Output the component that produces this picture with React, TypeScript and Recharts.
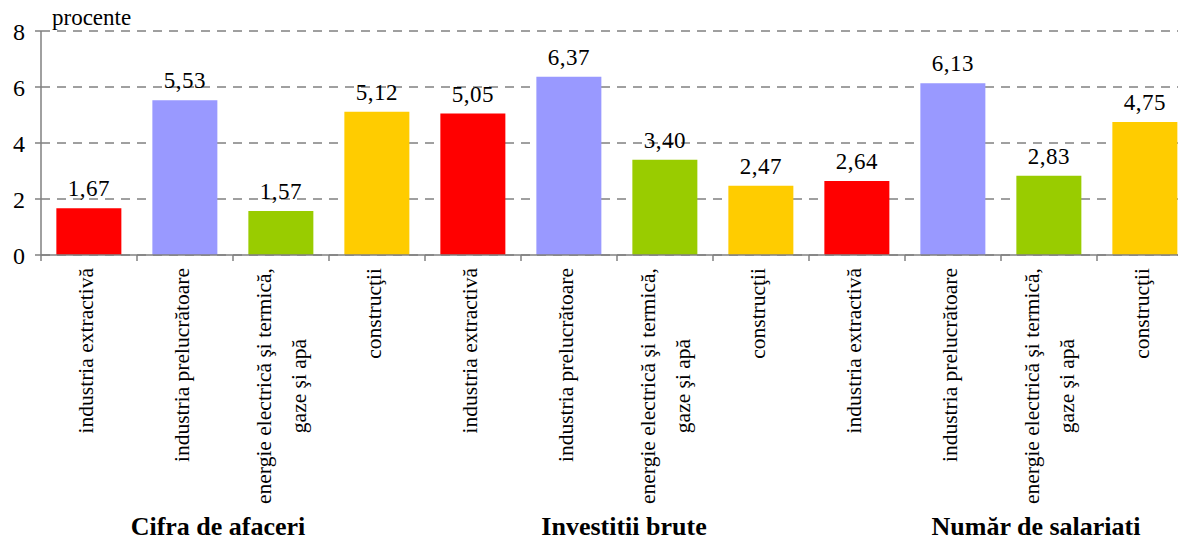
import React from 'react';
import { BarChart, Bar, XAxis, YAxis, CartesianGrid, Cell, LabelList } from 'recharts';

const GROUPS = ['Cifra de afaceri', 'Investiţii brute', 'Număr de salariaţi'];
const SECTORS = [
  'industria extractivă',
  'industria prelucrătoare',
  'energie electrică şi termică,\ngaze şi apă',
  'construcţii'
];
const CIFRA = [1.67, 5.53, 1.57, 5.12];
const INVESTITII = [5.05, 6.37, 3.4, 2.47];
const SALARIATI = [2.64, 6.13, 2.83, 4.75];
const Y_TICKS = [0, 2, 4, 6, 8];

const COLORS = ['#FF0000', '#9999FF', '#99CC00', '#FFCC00'];
const FONT = "'Liberation Serif', 'DejaVu Serif', serif";

const CHART_W = 1200;
const CHART_H = 543;
const LEFT = 41;
const RIGHT = 7;
const TOP = 31;
const X_AXIS_H = 288;

const data = [CIFRA, INVESTITII, SALARIATI].flatMap((vals, g) =>
  vals.map((v, i) => ({ key: `${g}-${i}`, group: g, sector: i, value: v }))
);
const BAND = (CHART_W - LEFT - RIGHT) / data.length;
const GROUP_NUDGE = [-15, 7, 35];
const CAT_FONT = 21.5;

let ctx: CanvasRenderingContext2D | null = null;
function measure(text: string) {
  if (!ctx) ctx = document.createElement('canvas').getContext('2d');
  if (!ctx) return text.length * CAT_FONT * 0.4;
  ctx.font = `${CAT_FONT}px ${FONT}`;
  return ctx.measureText(text).width;
}

const txt = (size: number, weight: string = 'normal') => ({
  fontFamily: FONT,
  fontSize: size,
  fontWeight: weight as any,
  fill: '#000'
});

const CategoryTick = (props: any) => {
  const { x, y, payload } = props;
  const idx = payload.index;
  const row = data[idx];
  const lines = SECTORS[row.sector].split('\n');
  const top = y + 13;
  const left = x - BAND / 2;
  const items: React.ReactNode[] = [];
  items.push(<line key="t" x1={left} y1={y} x2={left} y2={y + 6} stroke="#808080" strokeWidth={1.5} />);
  if (lines.length === 1) {
    items.push(
      <text key="l0" x={x - 3} y={top} transform={`rotate(-90, ${x - 3}, ${top})`} textAnchor="end"
        dominantBaseline="central" style={txt(CAT_FONT)}>{lines[0]}</text>
    );
  } else {
    const w = measure(lines[0]);
    const mid = top + w / 2;
    items.push(
      <text key="l0" x={x - 17} y={top} transform={`rotate(-90, ${x - 17}, ${top})`} textAnchor="end"
        dominantBaseline="central" style={txt(CAT_FONT)}>{lines[0]}</text>
    );
    items.push(
      <text key="l1" x={x + 18} y={mid} transform={`rotate(-90, ${x + 18}, ${mid})`} textAnchor="middle"
        dominantBaseline="central" style={txt(CAT_FONT)}>{lines[1]}</text>
    );
  }
  if (row.sector === 0) {
    const gx = left + 2 * BAND + GROUP_NUDGE[row.group];
    items.push(
      <text key="g" x={gx} y={y + 280} textAnchor="middle" style={txt(26, 'bold')}>{GROUPS[row.group]}</text>
    );
  }
  return <g>{items}</g>;
};

const UnitLabel = (props: any) => {
  const { viewBox } = props;
  return (
    <text x={viewBox.x + viewBox.width + 11} y={25} style={txt(23)}>procente</text>
  );
};

export default function App() {
  return (
    <div style={{ margin: -8, width: 1186, height: 543, overflow: 'hidden', background: '#fff', fontFamily: FONT }}>
      <BarChart
        width={CHART_W}
        height={CHART_H}
        data={data}
        margin={{ top: TOP, right: RIGHT, left: 0, bottom: 0 }}
        barCategoryGap="16%"
        style={{ fontFamily: FONT }}
      >
        <CartesianGrid vertical={false} stroke="#404040" strokeDasharray="9 7" />
        <XAxis
          dataKey="key"
          height={X_AXIS_H}
          interval={0}
          tickLine={false}
          tickSize={0}
          tickMargin={0}
          axisLine={{ stroke: '#808080', strokeWidth: 1.5 }}
          tick={<CategoryTick />}
        />
        <YAxis
          width={LEFT}
          domain={[0, 8]}
          ticks={Y_TICKS}
          interval={0}
          tickSize={6}
          tickMargin={10}
          axisLine={{ stroke: '#808080', strokeWidth: 1.5 }}
          tickLine={{ stroke: '#808080', strokeWidth: 1.5 }}
          tick={{ ...txt(24), style: txt(24) }}
          label={<UnitLabel />}
        />
        <Bar dataKey="value" isAnimationActive={false}>
          {data.map((d) => (
            <Cell key={d.key} fill={COLORS[d.sector]} />
          ))}
          <LabelList
            dataKey="value"
            position="top"
            offset={12}
            formatter={(v: any) => Number(v).toFixed(2).replace('.', ',')}
            style={{ ...txt(23), letterSpacing: 0.5 }}
          />
        </Bar>
      </BarChart>
    </div>
  );
}
